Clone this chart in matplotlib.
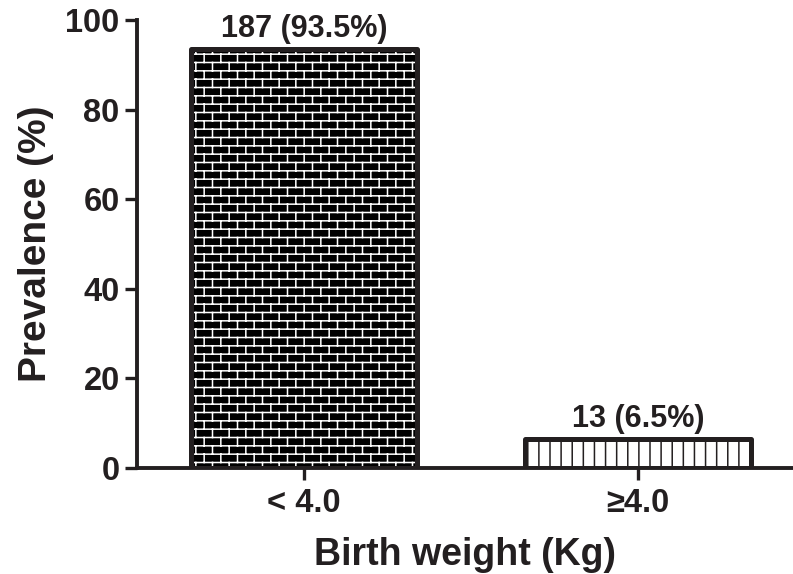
#!/usr/bin/env python3
# -*- coding: utf-8 -*-

import warnings
import numpy as np
import matplotlib
matplotlib.use("Agg")
import matplotlib.pyplot as plt
from matplotlib import hatch as mhatch
from matplotlib.path import Path

# ====== DATA ======
categories = ["< 4.0", "\u22654.0"]
counts = [187, 13]
prevalence = [93.5, 6.5]
yticks = [0, 20, 40, 60, 80, 100]

INK = "#231f20"


# ====== CUSTOM HATCHES ======
class BrickHatch(mhatch.HatchPatternBase):
    """'b' = brick wall (rows of offset bricks)"""
    rows = 12
    cols = 6

    def __init__(self, hatch, density):
        n = hatch.count("b")
        if n:
            self.num_lines = self.rows + self.rows * self.cols + self.cols
        else:
            self.num_lines = 0
        self.num_vertices = self.num_lines * 2

    def set_vertices_and_codes(self, vertices, codes):
        segs = []
        r, c = self.rows, self.cols
        for i in range(r):
            y = (i + 0.5) / r
            segs.append(((0.0, y), (1.0, y)))
        for i in range(r):
            y0 = (i + 0.5) / r
            y1 = min((i + 1.5) / r, 1.0)
            for j in range(c):
                x = (j + 0.25 + 0.5 * (i % 2)) / c
                segs.append(((x, y0), (x, y1)))
        # wrapped part of the last row
        for j in range(c):
            x = (j + 0.25 + 0.5 * ((r - 1) % 2)) / c
            segs.append(((x, 0.0), (x, 0.5 / r)))
        arr = np.array(segs, dtype=float).reshape(-1, 2)
        vertices[:] = arr
        codes[0::2] = Path.MOVETO
        codes[1::2] = Path.LINETO


class StripeHatch(mhatch.HatchPatternBase):
    """'v' = dense vertical stripes"""
    n_lines = 9

    def __init__(self, hatch, density):
        self.num_lines = self.n_lines if hatch.count("v") else 0
        self.num_vertices = self.num_lines * 2

    def set_vertices_and_codes(self, vertices, codes):
        xs = (np.arange(self.num_lines) + 0.5) / self.num_lines
        vertices[0::2, 0] = xs
        vertices[0::2, 1] = 0.0
        vertices[1::2, 0] = xs
        vertices[1::2, 1] = 1.0
        codes[0::2] = Path.MOVETO
        codes[1::2] = Path.LINETO


mhatch._hatch_types.extend([BrickHatch, StripeHatch])
warnings.filterwarnings("ignore")


def main():
    plt.rcParams["font.family"] = ["Liberation Sans", "DejaVu Sans"]
    plt.rcParams["font.weight"] = "bold"
    plt.rcParams["hatch.linewidth"] = 1.1

    fig = plt.figure(figsize=(7.93, 5.74), dpi=100)
    ax = fig.add_axes([0.1728, 0.1847, 0.8272, 0.7805])

    x = np.arange(len(categories))
    width = 0.675

    # filled + hatched layer
    ax.bar(x, prevalence, width, color=["black", "white"],
           edgecolor=["white", INK], linewidth=0, zorder=2)
    fills = ax.containers[-1]
    for patch, h in zip(fills.patches, ["b", "v"]):
        patch.set_hatch(h)

    # outline layer
    outline = ax.bar(x, prevalence, width, fill=False, edgecolor=INK,
                     linewidth=3.6, zorder=3)
    for patch in outline.patches:
        patch.set_joinstyle("round")

    labels = [f"{c} ({p}%)" for c, p in zip(counts, prevalence)]
    ax.bar_label(outline, labels=labels, padding=3.5, fontsize=22,
                 fontweight="bold", color=INK)

    ax.set_xlim(-0.5, 1.463)
    ax.set_ylim(0, 100)
    ax.set_yticks(yticks)
    ax.set_xticks(x, categories)

    for side in ["top", "right"]:
        ax.spines[side].set_visible(False)
    for side in ["left", "bottom"]:
        ax.spines[side].set_linewidth(2.8)
        ax.spines[side].set_color(INK)
        ax.spines[side].set_capstyle("projecting")

    ax.tick_params(axis="both", direction="out", length=8.5, width=2.4,
                   color=INK, labelcolor=INK, labelsize=23.5)
    ax.tick_params(axis="y", pad=4)
    ax.tick_params(axis="x", pad=6)

    ax.set_ylabel("Prevalence (%)", fontsize=28, fontweight="bold",
                  color=INK, labelpad=8)
    ax.set_xlabel("Birth weight (Kg)", fontsize=27, fontweight="bold",
                  color=INK, labelpad=13)

    fig.savefig("out.png", dpi=100)
    plt.close(fig)


if __name__ == "__main__":
    main()
